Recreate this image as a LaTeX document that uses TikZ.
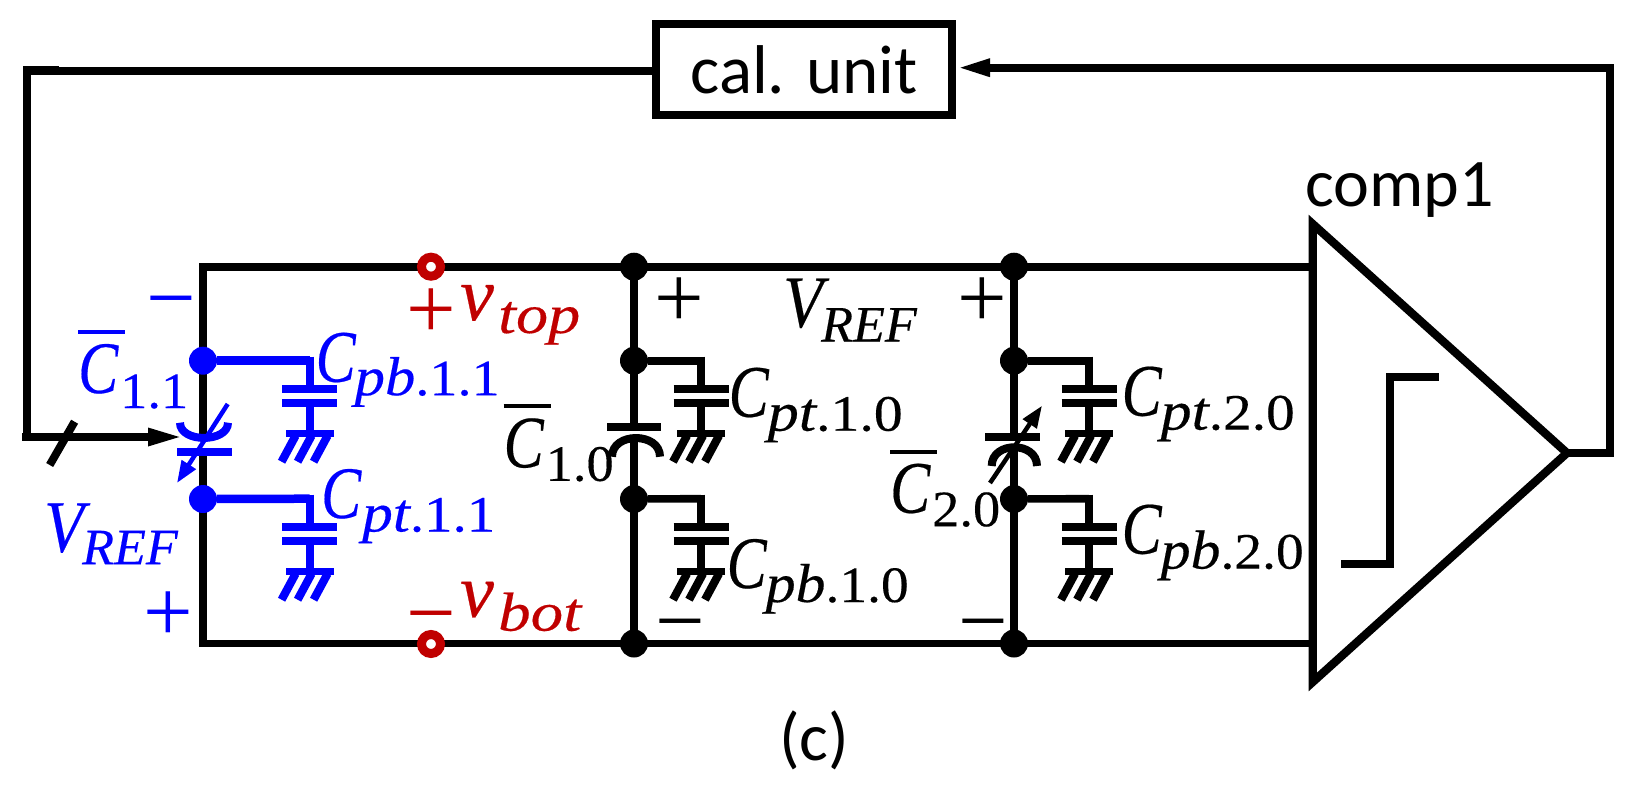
\documentclass[tikz,border=0pt]{standalone}
\usepackage{fontspec}
\setmainfont{Liberation Serif}
\newfontfamily\labf{Liberation Serif}[FakeBold=0.3]
\newfontfamily\sansf{Carlito}
\usetikzlibrary{arrows.meta}
\definecolor{termred}{RGB}{192,0,0}

% one unit = one pixel of the reference
\newcommand{\mainf}{\labf\fontsize{74}{74}\selectfont}
\newcommand{\subf}{\labf\fontsize{51}{51}\selectfont}
\newcommand{\si}[1]{{\fontsize{55}{55}\selectfont\itshape #1}}
\newcommand{\mC}{\scalebox{.81}[1]{\textit{C}}}
\newcommand{\mV}{\scalebox{.88}[1]{\textit{V}}}
\newcommand{\mv}{{\fontsize{76}{76}\selectfont\itshape v}}
\newcommand{\barC}{\rlap{\raisebox{59pt}{\rule{47pt}{4pt}}}\mC}
% letter, gap, drop, width of subscript, subscript
\newcommand{\lab}[5]{\makebox[#2pt][l]{\mainf #1}\raisebox{-#3pt}{\resizebox{#4pt}{\height}{\subf #5}}}

\tikzset{
  wire/.style={line width=7.6pt},
  plate/.style={line width=8pt},
  dot/.style={circle,fill,inner sep=0pt,minimum size=28pt},
  term/.style={circle,draw=termred,fill=white,line width=9pt,inner sep=0pt,minimum size=19pt},
  lbl/.style={anchor=base west,inner sep=0pt},
  sign/.style={anchor=base,inner sep=0pt,font=\fontsize{88}{88}\selectfont},
  sans/.style={inner sep=0pt,font=\sansf\fontsize{68}{68}\selectfont},
  pics/pcap/.style={code={
    \draw[line width=8.2pt] (0,-4) -- (0,28);
    \draw[plate] (-27.5,28) -- (27.5,28);
    \draw[plate] (-27.5,42) -- (27.5,42);
    \draw[line width=8.2pt] (0,42) -- (0,70);
    \fill (-24,69.5) rectangle (24,76.5);
    \draw[line width=8.2pt] (-14,75) -- (-28,101);
    \draw[line width=8.2pt] (2,75) -- (-12,101);
    \draw[line width=8.2pt] (18,75) -- (4,101);
  }}
}

\begin{document}
\begin{tikzpicture}[x=1pt,y=-1pt]
  \useasboundingbox (0,0) rectangle (1650,790);

  % calibration box and comparator corners
  \node[draw,line width=8pt,minimum width=296pt,minimum height=90.7pt,inner sep=0pt,
        font=\sansf\fontsize{69}{69}\selectfont] (cal) at (804,69.35) {cal. unit};
  \coordinate (ct) at (1312.75,224);
  \coordinate (cb) at (1312.75,682);
  \coordinate (co) at (1567,453);
  \coordinate (lt) at (203,267);
  \coordinate (lb) at (203,643.5);
  \coordinate (rt) at (1312,267);
  \coordinate (rb) at (1312,643.5);
  \coordinate (fb1) at (652,70.8);
  \coordinate (fb2) at (27,70.8);
  \coordinate (fb3) at (27,437);
  \coordinate (fb4) at (184,437);
  \coordinate (fr) at (1610,67.7);

  % rails
  \draw[wire] (rt) -- (lt) -- (203,438);
  \draw[wire] (203,452) -- (lb) -- (rb);
  \draw[wire] (634,267) -- (634,427);
  \draw[wire] (634,438) -- (634,643.5);
  \draw[wire] (1014,267) -- (1014,437);
  \draw[wire] (1014,447) -- (1014,643.5);

  % comparator
  \draw[line width=8.3pt] (ct) -- (co) -- (cb) -- cycle;
  \draw[line width=8pt] (1438.6,377) -- (1389.7,377) -- (1389.7,563.7) -- (1340.8,563.7);

  % feedback
  \draw[wire] (co) -| (fr) -- (1000,67.7);
  \draw[line width=8pt,-{Triangle[length=34pt,width=16pt]}] (1000,67.7) -- (956,67.7);
  \draw[line width=8.3pt] (fb1) -- (fb2) -- (fb3) -- (150,437);
  \draw[line width=8pt] (59,70) -- (23,70);
  \draw[line width=8pt] (31,437) -- (22,437);
  \draw[line width=8pt,-{Triangle[length=36pt,width=16pt]}] (150,437) -- (fb4);
  \draw[line width=8pt] (74.6,421.7) -- (49.7,465);

  % C_1.0
  \draw[plate] (607,426.7) -- (661,426.7);
  \draw[plate] (612,456.7) .. controls (612,431.8) and (660,431.8) .. (660,456.7);

  % C_2.0
  \draw[plate] (985,436.7) -- (1040,436.7);
  \draw[plate] (991.7,466) .. controls (991.7,441) and (1037,441) .. (1037,466);
  \draw[line width=4.5pt,-{Triangle[length=22pt,width=16pt]}] (990,483) -- (1042,405.7);

  % parasitics, black side
  \node[dot] (j1) at (634,266.7) {};
  \node[dot] (j2) at (634,360.7) {};
  \node[dot] (j3) at (634,499) {};
  \node[dot] (j4) at (634,643.5) {};
  \node[dot] (j5) at (1014,266.7) {};
  \node[dot] (j6) at (1014,360.7) {};
  \node[dot] (j7) at (1014,499) {};
  \node[dot] (j8) at (1014,643.5) {};
  \coordinate (p1) at (701,360.7);
  \coordinate (p2) at (701,498.7);
  \coordinate (p3) at (1089,360.7);
  \coordinate (p4) at (1089,498.7);
  \draw[wire] (j2) -- (p1);
  \draw[wire] (j3) -- (p2);
  \draw[wire] (j6) -- (p3);
  \draw[wire] (j7) -- (p4);
  \pic at (p1) {pcap};
  \pic at (p2) {pcap};
  \pic at (p3) {pcap};
  \pic at (p4) {pcap};

  % C_1.1, blue side
  \begin{scope}[color=blue]
    \node[dot] (b1) at (203,360.7) {};
    \node[dot] (b2) at (203,499) {};
    \coordinate (p5) at (309.6,360.7);
    \coordinate (p6) at (309.6,498.7);
    \draw[line width=8.5pt] (b1) -- (p5);
    \draw[line width=8.5pt] (b2) -- (p6);
    \pic[color=blue] at (p5) {pcap};
    \pic[color=blue] at (p6) {pcap};
    \draw[plate] (180,422.7) .. controls (180,443) and (228,443) .. (228,422.7);
    \draw[plate] (177,451.7) -- (232,451.7);
    \draw[line width=4.5pt,-{Triangle[length=22pt,width=16pt]}] (227.7,404) -- (177,483);
  \end{scope}

  % terminals
  \node[term] (vt) at (431,266.7) {};
  \node[term] (vb) at (431,644) {};

  % labels
  \node[sans] (comp) at (1399.5,190) {comp1};
  \node[sans,anchor=base west] (tagc) at (779,760) {(c)};

  \begin{scope}[color=blue]
    \node[lbl,text=blue] (l1) at (78,393) {\lab{\barC}{42}{15}{68}{1.1}};
    \node[lbl,text=blue] (l2) at (315.5,381.7) {\lab{\mC}{39}{13.5}{145}{\si{pb}.1.1}};
    \node[lbl,text=blue] (l3) at (321,518) {\lab{\mC}{41}{13.5}{133}{\si{pt}.1.1}};
    \node[lbl,text=blue] (l4) at (44,551.7) {\lab{\mV}{38}{12.5}{96}{\textit{REF}}};
    \node[sign,text=blue] (s1) at (171,327) {−};
    \node[sign,text=blue] (s2) at (168.4,641) {+};
  \end{scope}

  \node[lbl,text=termred] (l5) at (460,320) {\lab{\mv}{38}{13}{82}{\si{top}}};
  \node[lbl,text=termred] (l6) at (460,616.7) {\lab{\mv}{38}{14}{83}{\si{bot}}};
  \node[sign,text=termred] (s3) at (431,338) {+};
  \node[sign,text=termred] (s4) at (431,642) {−};

  \node[lbl] (l7) at (503.5,467.3) {\lab{\barC}{42}{13.5}{68}{1.0}};
  \node[lbl] (l8) at (728.5,416.7) {\lab{\mC}{39}{14}{135}{\si{pt}.1.0}};
  \node[lbl] (l9) at (726.5,588) {\lab{\mC}{39}{14}{143}{\si{pb}.1.0}};
  \node[lbl] (l10) at (783,327) {\lab{\mV}{38}{14.5}{96}{\textit{REF}}};
  \node[lbl] (l11) at (890,512.7) {\lab{\barC}{42}{13.5}{68}{2.0}};
  \node[lbl] (l12) at (1121.5,415.6) {\lab{\mC}{39}{14}{134}{\si{pt}.2.0}};
  \node[lbl] (l13) at (1121.5,553.6) {\lab{\mC}{39}{15}{143}{\si{pb}.2.0}};
  \node[sign] (s5) at (679,327) {+};
  \node[sign] (s6) at (680,650) {−};
  \node[sign] (s7) at (982,327) {+};
  \node[sign] (s8) at (983,650) {−};
\end{tikzpicture}
\end{document}
